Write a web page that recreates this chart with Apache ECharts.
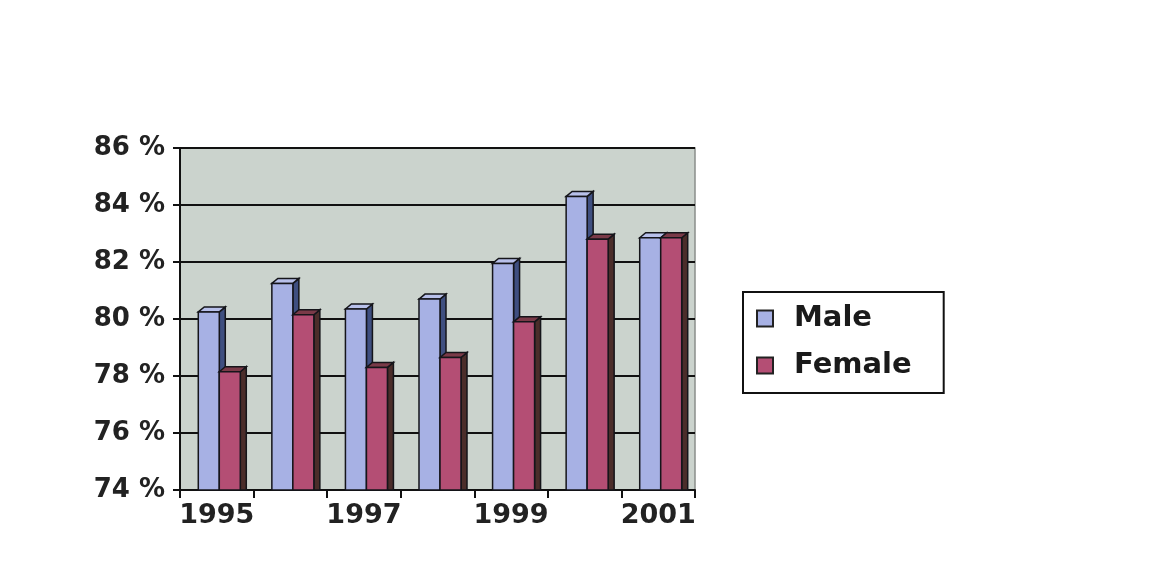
<!DOCTYPE html>
<html><head><meta charset="utf-8">
<script src="https://cdn.jsdelivr.net/npm/echarts@6/dist/echarts.min.js"></script>
<style>html,body{margin:0;padding:0;background:#fff}#c{width:1168px;height:587px}</style>
</head><body><div id="c"></div>
<script>
var years = ['1995','1996','1997','1998','1999','2000','2001'];
var male = [80.25, 81.25, 80.35, 80.7, 81.95, 84.3, 82.85];
var female = [78.15, 80.15, 78.3, 78.65, 79.9, 82.8, 82.85];
var seriesNames = ['Male', 'Female'];

var chart = echarts.init(document.getElementById('c'));
var font = '"DejaVu Sans", "Liberation Sans", Arial, sans-serif';
var BASE = 74;
var BW = 21, DX = 6, DY = -5;

function make3D(offset, front, side, top) {
  return function (params, api) {
    var idx = api.value(0), val = api.value(1);
    var p = api.coord([idx, val]);
    var b = api.coord([idx, BASE]);
    var x0 = p[0] + offset, x1 = x0 + BW, yt = p[1], yb = b[1];
    var stroke = '#15151a';
    return {
      type: 'group',
      children: [
        { type: 'polygon', shape: { points: [[x1, yb], [x1, yt], [x1 + DX, yt + DY], [x1 + DX, yb]] },
          style: { fill: side, stroke: stroke, lineWidth: 1.5 } },
        { type: 'polygon', shape: { points: [[x0, yt], [x0 + DX, yt + DY], [x1 + DX, yt + DY], [x1, yt]] },
          style: { fill: top, stroke: stroke, lineWidth: 1.5 } },
        { type: 'rect', shape: { x: x0, y: yt, width: BW, height: yb - yt },
          style: { fill: front, stroke: stroke, lineWidth: 1.5 } }
      ]
    };
  };
}

chart.setOption({
  animation: false,
  backgroundColor: '#fff',
  grid: { left: 180, right: 473, top: 148, bottom: 97, show: true, backgroundColor: '#cbd3cd', borderColor: '#8a8f8a', borderWidth: 1.5 },
  legend: {
    orient: 'vertical', left: 743, top: 292,
    padding: [12, 32, 13, 13],
    itemGap: 18, itemWidth: 16, itemHeight: 16,
    icon: 'rect',
    borderColor: '#111', borderWidth: 2, backgroundColor: '#fff',
    textStyle: { fontFamily: font, fontWeight: 'bold', fontSize: 29, color: '#1a1a1a', padding: [0, 0, 0, 16] },
    data: [
      { name: seriesNames[0], itemStyle: { color: '#a7b1e4', borderColor: '#222', borderWidth: 2 } },
      { name: seriesNames[1], itemStyle: { color: '#b44e74', borderColor: '#222', borderWidth: 2 } }
    ]
  },
  xAxis: {
    type: 'category', data: years,
    axisLine: { lineStyle: { color: '#111', width: 2 } },
    axisTick: { show: true, interval: 0, length: 8, lineStyle: { color: '#111', width: 2 } },
    axisLabel: { interval: 1, fontFamily: font, fontWeight: 'bold', fontSize: 27, color: '#222', margin: 12 }
  },
  yAxis: {
    type: 'value', min: 74, max: 86, interval: 2,
    axisLine: { show: true, lineStyle: { color: '#111', width: 2 } },
    axisTick: { show: true, length: 7, lineStyle: { color: '#111', width: 2 } },
    splitLine: { lineStyle: { color: '#111', width: 2 } },
    axisLabel: { fontFamily: font, fontWeight: 'bold', fontSize: 26, color: '#222', margin: 15,
      formatter: function (v) { return v + ' %'; } }
  },
  series: [
    { name: seriesNames[0], type: 'custom', itemStyle: { color: '#a7b1e4' },
      renderItem: make3D(-18.5, '#a7b1e4', '#3f4f80', '#b8c0ea'),
      encode: { x: 0, y: 1 },
      data: male.map(function (v, i) { return [i, v]; }) },
    { name: seriesNames[1], type: 'custom', itemStyle: { color: '#b44e74' },
      renderItem: make3D(2.5, '#b44e74', '#4b2d2a', '#7a3a48'),
      encode: { x: 0, y: 1 },
      data: female.map(function (v, i) { return [i, v]; }) }
  ]
});
</script></body></html>
